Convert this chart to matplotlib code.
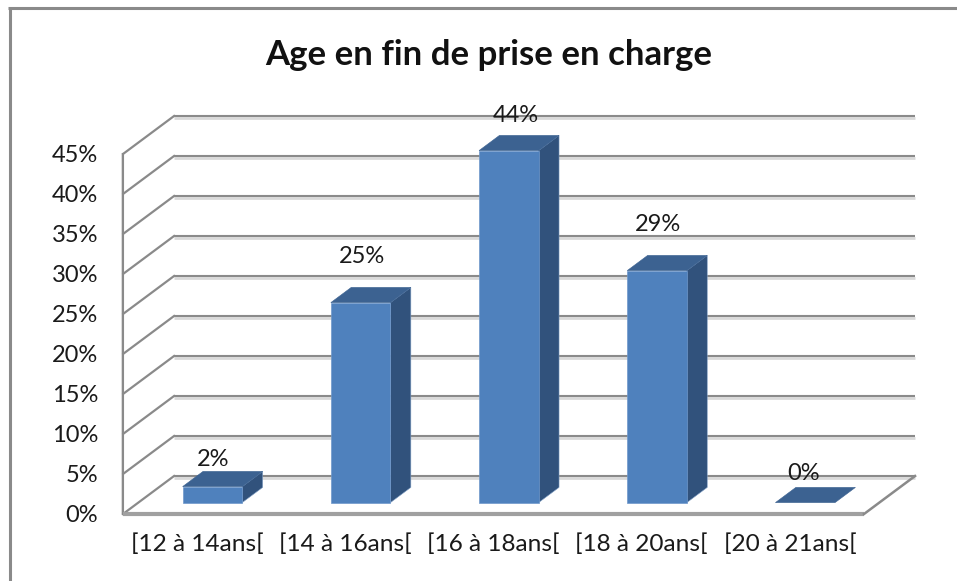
import matplotlib
matplotlib.use("Agg")
import matplotlib.pyplot as plt
from matplotlib.lines import Line2D
from matplotlib.patches import Polygon

categories = ["[12 à 14ans[", "[14 à 16ans[", "[16 à 18ans[", "[18 à 20ans[", "[20 à 21ans["]
values = [2, 25, 44, 29, 0]
value_labels = ["2%", "25%", "44%", "29%", "0%"]
y_ticks = [0, 5, 10, 15, 20, 25, 30, 35, 40, 45]

W, H = 957, 581
LINE = "#8a8a8a"
SHADOW = "#d9d9d9"

# hand placed data labels in the original, pixels from bar top
label_dx = [0, 1.5, 7, 1, -2]
label_dy = [27, 46, 35, 46, 29]

# oblique projection: depth 0 is front plane, depth 1 the back wall
depth_x = 51 / 148
depth_y = 38 / 8
bar_width = 59.5 / 148
bar_d0, bar_d1 = 0.30, 0.70


def project(x, v, d):
    return x + d * depth_x, v + d * depth_y


def bar_faces(i, val):
    left = i + 0.5 - bar_width / 2
    right = i + 0.5 + bar_width / 2
    front = [project(left, 0, bar_d0), project(right, 0, bar_d0),
             project(right, val, bar_d0), project(left, val, bar_d0)]
    side = [project(right, 0, bar_d0), project(right, 0, bar_d1),
            project(right, val, bar_d1), project(right, val, bar_d0)]
    top = [project(left, val, bar_d0), project(right, val, bar_d0),
           project(right, val, bar_d1), project(left, val, bar_d1)]
    return front, side, top


plt.rcParams["font.family"] = ["Lato", "DejaVu Sans"]

fig = plt.figure(figsize=(W / 100, H / 100), dpi=100)
ax = fig.add_axes([123 / W, 1 - 514 / H, 741 / W, 360 / H])
ax.set_xlim(0, 5)
ax.set_ylim(0, 45)
ax.patch.set_alpha(0)
for s in ax.spines.values():
    s.set_visible(False)

n = len(categories)
for v in y_ticks:
    # light shadow under the back wall lines, about 2 px lower
    x0, y0 = project(0, v, 1)
    x1, y1 = project(n, v, 1)
    ax.plot([x0, x1], [y0 - 0.3, y1 - 0.3], color=SHADOW, lw=2, clip_on=False, zorder=1, solid_capstyle="butt")
    ax.plot([x0, x1], [y0, y1], color=LINE, lw=1.5, clip_on=False, zorder=1.1, solid_capstyle="butt")
    ax.plot([0, x0], [v, y0], color=LINE, lw=1.6, clip_on=False, zorder=1.1)

# left wall, floor front edge, floor right edge
ax.plot([0, 0], [0, 45], color=LINE, lw=1.5, clip_on=False, zorder=2)
ax.plot([-0.006, -0.006], [0, 45], color=SHADOW, lw=1.2, clip_on=False, zorder=1.9)
ax.plot([0, n], [0, 0], color="#a0a0a0", lw=3, clip_on=False, zorder=2, solid_capstyle="butt")
ax.plot([n, project(n, 0, 1)[0]], [0, project(n, 0, 1)[1]], color=LINE, lw=1.8, clip_on=False, zorder=2)

for i, val in enumerate(values):
    front, side, top = bar_faces(i, val)
    if val > 0:
        ax.add_patch(Polygon(side, closed=True, fc="#31527c", ec="#7f9ec4", lw=0.4, clip_on=False, zorder=3))
        ax.add_patch(Polygon(front, closed=True, fc="#4f81bd", ec="#6f98cb", lw=0.5, clip_on=False, zorder=3.2))
    ax.add_patch(Polygon(top, closed=True, fc="#3c6291", ec="#3c6291", lw=0.4, clip_on=False, zorder=3.1))
    ax.annotate(
        value_labels[i],
        xy=front[3] if val > 0 else top[0],
        xytext=(30 + label_dx[i], label_dy[i]),
        xycoords="data",
        textcoords="offset pixels",
        ha="center",
        va="center",
        fontsize=17,
        color="#1a1a1a",
        zorder=5,
        annotation_clip=False,
    )

ax.set_yticks(y_ticks)
ax.set_yticklabels([f"{v}%" for v in y_ticks], fontsize=17, color="#1a1a1a")
ax.set_xticks([i + 0.5 for i in range(n)])
ax.set_xticklabels(categories, fontsize=17.6, color="#1a1a1a")
ax.tick_params(axis="y", length=0, pad=18)
ax.tick_params(axis="x", length=0, pad=14)

fig.text(489 / W, 1 - 55 / H, "Age en fin de prise en charge", ha="center", va="center",
         fontsize=25, fontweight="bold", color="#111111")

# outer chart frame, only left and top fall inside the crop
fig.add_artist(Line2D([9.5 / W, 9.5 / W], [0, 1 - 8 / H], color=LINE, lw=2.2, solid_capstyle="butt"))
fig.add_artist(Line2D([8 / W, 1], [1 - 8 / H, 1 - 8 / H], color=LINE, lw=2.2, solid_capstyle="butt"))

fig.savefig("out.png", dpi=100)
